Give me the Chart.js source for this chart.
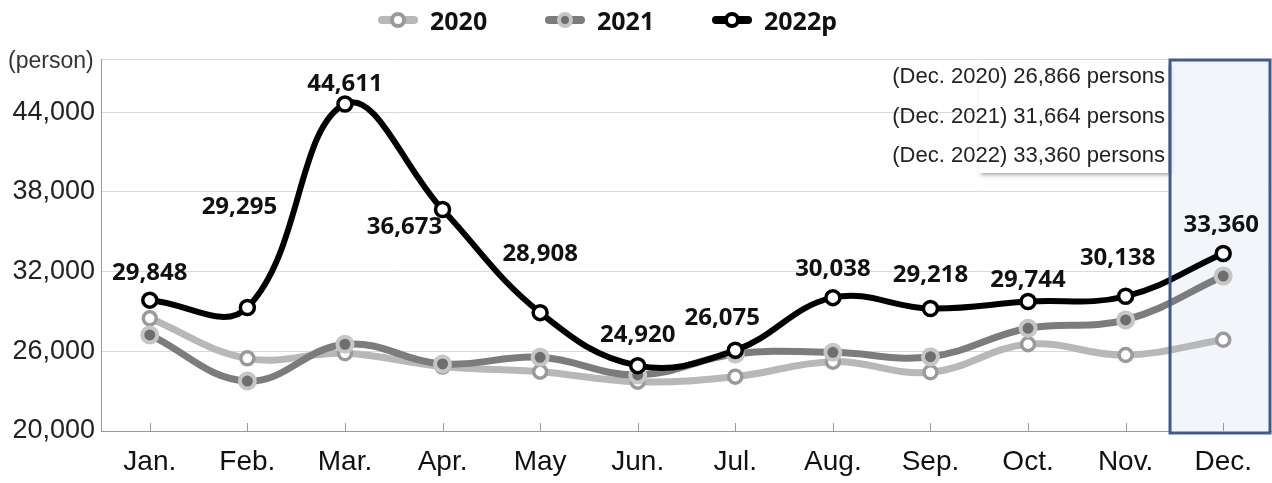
<!DOCTYPE html>
<html><head><meta charset="utf-8">
<script src="https://cdn.jsdelivr.net/npm/chart.js@4.4.1/dist/chart.umd.min.js"></script>
<style>
html,body{margin:0;padding:0;background:#fff;overflow:hidden;}
#wrap{position:relative;width:1272px;height:483px;overflow:hidden;}
#c{display:block;position:absolute;left:0;top:0;}
#legend{position:absolute;top:5px;left:0;width:1272px;height:30px;font:bold 25px "Noto Sans";color:#111;}
.item{position:absolute;top:0;height:30px;display:flex;align-items:center;}
.icon{position:relative;width:40px;height:30px;margin-right:12px;}
.icon .ln{position:absolute;left:0;right:0;top:11px;height:8px;border-radius:4px;}
.icon .dot{position:absolute;left:12px;top:7px;width:16px;height:16px;border-radius:50%;box-sizing:border-box;}
#unit{position:absolute;left:8px;top:47px;font:23px "Liberation Sans";color:#333;}
</style></head><body>
<div id="wrap"><canvas id="c" width="1272" height="483"></canvas>
<div id="legend">
 <div class="item" style="left:378px"><div class="icon"><div class="ln" style="background:#b8b8b8"></div><div class="dot" style="background:#fff;border:4px solid #9a9a9a"></div></div>2020</div>
 <div class="item" style="left:545px"><div class="icon"><div class="ln" style="background:#7c7c7c"></div><div class="dot" style="background:#6e6e6e;border:4px solid #c6c6c6"></div></div>2021</div>
 <div class="item" style="left:712px"><div class="icon"><div class="ln" style="background:#000"></div><div class="dot" style="background:#fff;border:4px solid #000"></div></div>2022p</div>
</div>
<div id="unit">(person)</div></div>
<script>
const categories = ['Jan.','Feb.','Mar.','Apr.','May','Jun.','Jul.','Aug.','Sep.','Oct.','Nov.','Dec.'];
const values2020 = [28480, 25470, 25850, 24850, 24460, 23710, 24090, 25220, 24420, 26530, 25720, 26866];
const values2021 = [27230, 23760, 26530, 25050, 25550, 24220, 25800, 25920, 25590, 27730, 28360, 31664];
const values2022 = [29848, 29295, 44611, 36673, 28908, 24920, 26075, 30038, 29218, 29744, 30138, 33360];
const yTicks = [20000, 26000, 32000, 38000, 44000];
const noteLines = ['(Dec. 2020) 26,866 persons','(Dec. 2021) 31,664 persons','(Dec. 2022) 33,360 persons'];

const labelOffsets = [[0,-27],[-8,-100],[0,-20],[-38,18],[0,-58],[0,-30],[-13,-32],[0,-28],[0,-33],[0,-21],[-8,-38],[-2,-28]];

const fmt = v => v.toLocaleString('en-US');

const decorations = {
  id:'decorations',
  beforeDatasetsDraw(chart){
    const {ctx, chartArea:a, scales:{x}} = chart;
    const s = x.getPixelForValue(1) - x.getPixelForValue(0);
    const l = x.getPixelForValue(categories.length-1) - 0.545*s;
    ctx.save();
    ctx.fillStyle = '#f2f5fa';
    ctx.fillRect(l, a.top+1, a.right-2-l, a.bottom+1-a.top);
    ctx.strokeStyle = '#9a9a9a'; ctx.lineWidth = 1;
    categories.forEach((c,i)=>{
      const px = Math.round(x.getPixelForValue(i))+0.5;
      ctx.beginPath(); ctx.moveTo(px, a.bottom); ctx.lineTo(px, a.bottom-8); ctx.stroke();
    });
    ctx.shadowColor = 'rgba(0,0,0,0.35)'; ctx.shadowBlur = 4; ctx.shadowOffsetX = 2; ctx.shadowOffsetY = 2;
    ctx.fillStyle = '#fff';
    ctx.fillRect(979, a.top+4, 189, 110);
    ctx.restore();
  },
  afterDatasetsDraw(chart){
    const {ctx, chartArea:a, scales:{x}} = chart;
    const s = x.getPixelForValue(1) - x.getPixelForValue(0);
    const l = x.getPixelForValue(categories.length-1) - 0.545*s;
    ctx.save();
    ctx.strokeStyle = '#3f5b8c'; ctx.lineWidth = 3;
    ctx.strokeRect(l, a.top+1, a.right-2-l, a.bottom+1-a.top);
    ctx.fillStyle = '#222'; ctx.font = '22px "Liberation Sans"';
    ctx.textAlign = 'right'; ctx.textBaseline = 'middle';
    noteLines.forEach((t,i)=> ctx.fillText(t, 1165, a.top + 18 + i*39.5));
    const meta = chart.getDatasetMeta(0);
    ctx.fillStyle = '#111'; ctx.font = 'bold 24px "Noto Sans"'; ctx.textAlign = 'center';
    meta.data.forEach((p,i)=>{
      const o = labelOffsets[i];
      ctx.fillText(fmt(values2022[i]), p.x + o[0], p.y + o[1]);
    });
    ctx.restore();
  }
};

new Chart(document.getElementById('c'), {
  type:'line',
  data:{
    labels: categories,
    datasets:[
      {label:'2022p', data:values2022, order:0, borderColor:'#000', borderWidth:6, tension:0.4,
       pointRadius:7, pointBackgroundColor:'#fff', pointBorderColor:'#000', pointBorderWidth:3.5},
      {label:'2021', data:values2021, order:1, borderColor:'#7c7c7c', borderWidth:7, tension:0.4,
       pointRadius:7.5, pointBackgroundColor:'#6e6e6e', pointBorderColor:'#c6c6c6', pointBorderWidth:4},
      {label:'2020', data:values2020, order:2, borderColor:'#b8b8b8', borderWidth:7, tension:0.4,
       pointRadius:6.5, pointBackgroundColor:'#fff', pointBorderColor:'#9a9a9a', pointBorderWidth:3.5}
    ]
  },
  options:{
    responsive:false, animation:false, events:[], devicePixelRatio:1,
    layout:{autoPadding:false, padding:{top:59, right:0, left:0, bottom:0}},
    plugins:{legend:{display:false}, tooltip:{enabled:false}},
    scales:{
      x:{
        offset:true,
        grid:{display:false, drawTicks:false},
        border:{display:true, color:'#9a9a9a', width:1},
        ticks:{font:{family:'Liberation Sans', size:28}, color:'#111', padding:14, maxRotation:0},
        afterFit(s){ s.height = 52; s.paddingLeft = 0; s.paddingRight = 0; }
      },
      y:{
        min:20000, max:48000,
        afterBuildTicks(s){ s.ticks = yTicks.concat([48000]).map(v=>({value:v})); },
        grid:{color:'#d9d9d9', lineWidth:1, drawTicks:false},
        border:{display:true, color:'#9a9a9a', width:1},
        ticks:{font:{family:'Liberation Sans', size:27}, color:'#222', padding:6,
          callback:(v)=> yTicks.includes(v) ? fmt(v) : ''},
        afterFit(s){ s.width = 101; }
      }
    }
  },
  plugins:[decorations]
});
</script>
</body></html>
